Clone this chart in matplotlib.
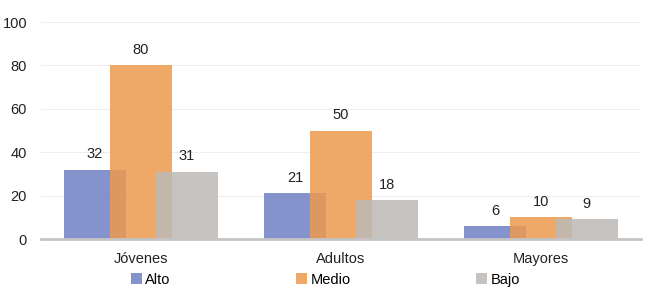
import numpy as np
import matplotlib.pyplot as plt

# ------------------------------
# Data
# ------------------------------
categories = ["Jóvenes", "Adultos", "Mayores"]
series_names = ["Alto", "Medio", "Bajo"]
alto = [32, 21, 6]
medio = [80, 50, 10]
bajo = [31, 18, 9]

colors = ["#6f80c2", "#ec9a4e", "#bcb9b7"]

plt.rcParams['font.family'] = ['Liberation Sans', 'DejaVu Sans']
fs = 10.5

fig = plt.figure(figsize=(6.5, 2.94), dpi=100)
ax = fig.add_axes([0.063, 0.187, 0.923, 0.738])

x = np.arange(len(categories))
width = 0.31
offsets = [-0.23, 0.0, 0.23]

for vals, name, col, off in zip([alto, medio, bajo], series_names, colors, offsets):
    bars = ax.bar(x + off, vals, width, color=col, alpha=0.85, label=name, zorder=2)
    for b, v in zip(bars, vals):
        ax.annotate(str(v), (b.get_x() + b.get_width() / 2, v),
                    xytext=(0, 6), textcoords="offset points",
                    ha="center", va="bottom", fontsize=fs, color="#222222")

ax.set_xlim(-0.5, 2.5)
ax.set_ylim(0, 100)
ax.set_yticks(range(0, 101, 20))
ax.set_xticks(x)
ax.set_xticklabels(categories)
ax.tick_params(axis="both", length=0, labelsize=fs, colors="#222222")
ax.tick_params(axis="x", pad=9)
ax.tick_params(axis="y", pad=10)
ax.grid(axis="y", color="#eeeeee", linewidth=0.8, zorder=0)
ax.set_axisbelow(True)

for s in ["top", "right", "left"]:
    ax.spines[s].set_visible(False)
ax.spines["bottom"].set_color("#c4c4c4")
ax.spines["bottom"].set_linewidth(2)

fig.legend(loc="lower left", bbox_to_anchor=(0.19, 0.0), ncol=3, frameon=False,
           fontsize=fs, handlelength=0.75, handleheight=0.75, handletextpad=0.25,
           columnspacing=8.6, borderaxespad=0.1)

fig.savefig("out.png", dpi=100)
